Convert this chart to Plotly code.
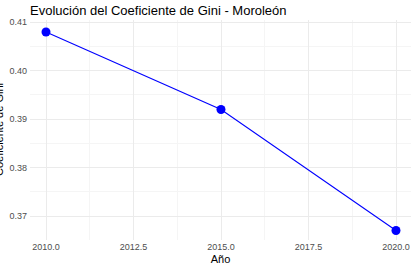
import plotly.graph_objects as go

years = [2010, 2015, 2020]
gini = [0.408, 0.392, 0.367]
x_ticks = [2010.0, 2012.5, 2015.0, 2017.5, 2020.0]
y_ticks = [0.37, 0.38, 0.39, 0.40, 0.41]

fig = go.Figure()
fig.add_trace(go.Scatter(
    x=years, y=gini, mode="lines+markers",
    line=dict(color="#0000ff", width=1.1),
    marker=dict(color="#0000ff", size=9),
    showlegend=False, cliponaxis=False,
))

fig.update_layout(
    width=411, height=273,
    margin=dict(l=30, r=0, t=20, b=33),
    paper_bgcolor="white", plot_bgcolor="white",
    font=dict(family="Liberation Sans, Arial, sans-serif"),
    title=dict(text="Evolución del Coeficiente de Gini - Moroleón",
               x=30/411, xanchor="left", y=1 - 10/273, yanchor="middle",
               font=dict(size=13, color="black")),
    xaxis=dict(
        range=[2010 - 16/35, 2020 + 15/35],
        tickvals=x_ticks, ticktext=[f"{v:.1f}" for v in x_ticks],
        showgrid=True, gridcolor="#ebebeb", gridwidth=1,
        minor=dict(showgrid=True, gridcolor="#f5f5f5", gridwidth=0.6,
                   tickvals=[2011.25, 2013.75, 2016.25, 2018.75]),
        zeroline=False, showline=False, ticks="",
        tickfont=dict(size=9, color="#4d4d4d"),
        title=dict(text="Año", font=dict(size=11, color="black"), standoff=4),
    ),
    yaxis=dict(
        range=[0.37 - 24/4842.5, 0.41 + 2.3/4842.5],
        tickvals=y_ticks, ticktext=[f"{v:.2f}" for v in y_ticks],
        showgrid=True, gridcolor="#ebebeb", gridwidth=1,
        minor=dict(showgrid=True, gridcolor="#f5f5f5", gridwidth=0.6,
                   tickvals=[0.365, 0.375, 0.385, 0.395, 0.405]),
        zeroline=False, showline=False, ticks="",
        tickfont=dict(size=9, color="#4d4d4d"),
        ticklabelstandoff=2,
        automargin=False,
    ),
    annotations=[dict(
        text="Coeficiente de Gini", textangle=-90,
        xref="paper", yref="paper", x=0, y=0.5,
        xanchor="center", yanchor="middle", xshift=-31,
        showarrow=False, font=dict(size=11, color="black"),
    )],
)
fig.update_xaxes(automargin=False)

fig.write_html("out.html")
